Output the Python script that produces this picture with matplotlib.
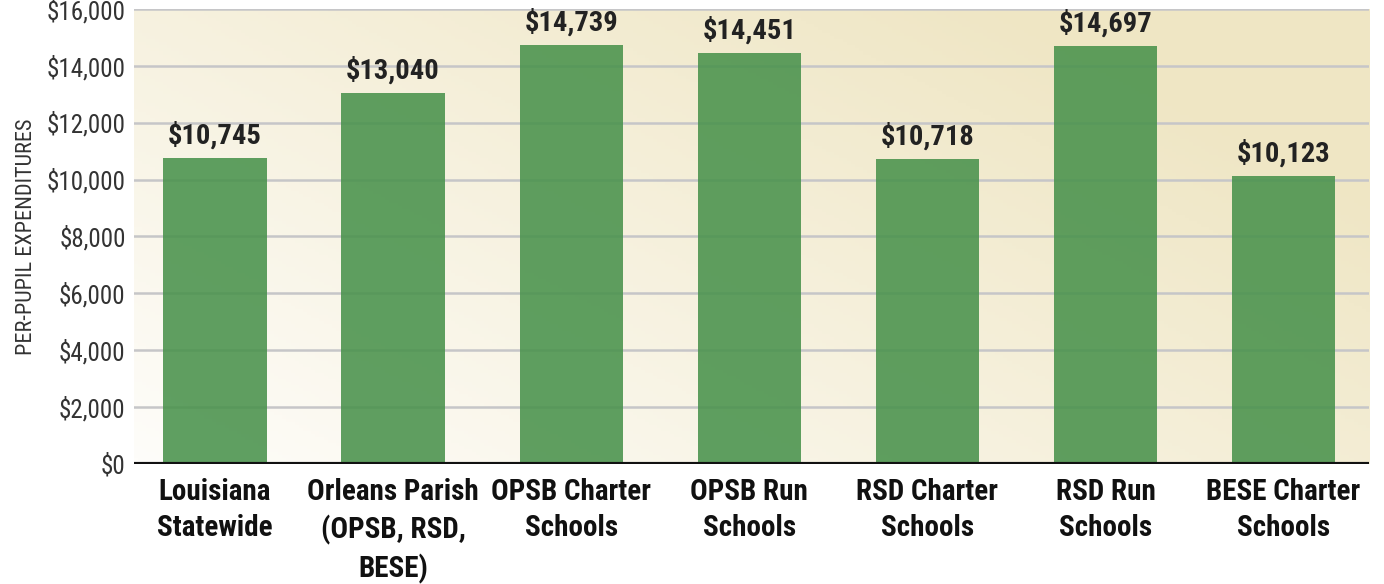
import matplotlib
matplotlib.use("Agg")
import matplotlib.pyplot as plt
from matplotlib.colors import LinearSegmentedColormap
import numpy as np

categories = ["Louisiana\nStatewide", "Orleans Parish\n(OPSB, RSD,\nBESE)", "OPSB Charter\nSchools",
              "OPSB Run\nSchools", "RSD Charter\nSchools", "RSD Run\nSchools", "BESE Charter\nSchools"]
values = [10745, 13040, 14739, 14451, 10718, 14697, 10123]
yticks = [0, 2000, 4000, 6000, 8000, 10000, 12000, 14000, 16000]

plt.rcParams['font.family'] = ['Roboto Condensed', 'Archivo Narrow', 'Liberation Sans Narrow', 'DejaVu Sans']

fig = plt.figure(figsize=(13.84, 5.84), dpi=100)
ax = fig.add_axes([0.0968, 0.2055, 0.8924, 0.7791])

# background gradient, white bottom-left to tan top-right
gx, gy = np.meshgrid(np.linspace(0, 1, 300), np.linspace(0, 1, 150))
t = np.clip(0.7 * gx + 0.5 * gy, 0, 1)
cmap = LinearSegmentedColormap.from_list("bg", ["#fefdfa", "#efe6c4"])
ax.imshow(t, cmap=cmap, origin="lower", extent=[0, 1, 0, 1], transform=ax.transAxes,
          aspect="auto", zorder=0, vmin=0, vmax=1)

x = np.arange(len(categories))
for yv in yticks[1:]:
    ax.axhline(yv, color="#c6c6c8", lw=1.8, zorder=1)

ax.bar(x, values, width=0.58, color="#49924c", alpha=0.88, zorder=2)
ax.axhline(0, color="#111111", lw=3, zorder=3)

for xi, v in zip(x, values):
    ax.annotate("${:,}".format(v), (xi, v), xytext=(0, 6), textcoords="offset points",
                ha="center", va="bottom", fontsize=20.5, fontweight="bold", color="#222222")

ax.set_xlim(-0.455, 6.48)
ax.set_ylim(0, 16000)
ax.set_yticks(yticks)
ax.set_yticklabels(["${:,}".format(v) for v in yticks], fontsize=18, color="#333333")
ax.set_xticks(x)
ax.set_xticklabels(categories, fontsize=21, fontweight="bold", color="#111111", linespacing=1.38)
ax.tick_params(axis="y", length=0, pad=6)
ax.tick_params(axis="x", length=0, pad=10)
for s in ax.spines.values():
    s.set_visible(False)

fig.text(0.019, 0.595, "PER-PUPIL EXPENDITURES", rotation=90, ha="center", va="center",
         fontsize=16, color="#333333")

fig.savefig("out.png", dpi=100)
